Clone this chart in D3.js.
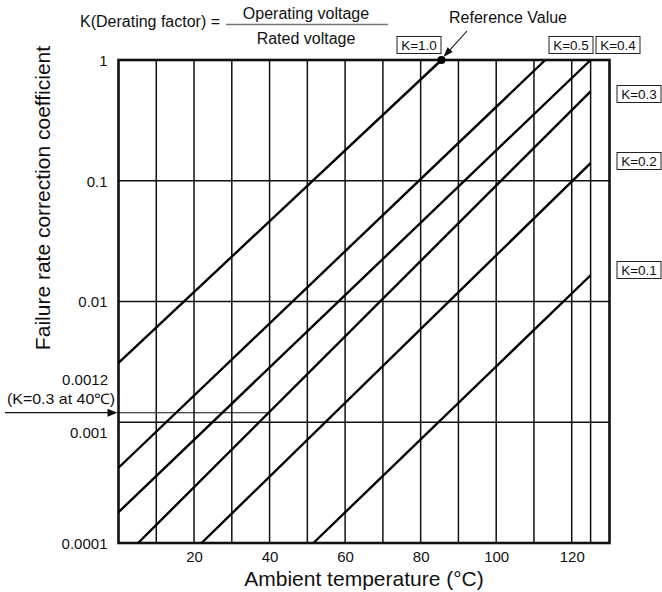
<!DOCTYPE html>
<html>
<head>
<meta charset="utf-8">
<script src="https://cdn.jsdelivr.net/npm/d3@7"></script>
<style>
  html, body { margin: 0; padding: 0; background: #fff; }
  svg { display: block; }
  text { font-family: "Liberation Sans", Arial, Helvetica, sans-serif; fill: #111; }
</style>
</head>
<body>
<svg id="chart" width="662" height="592"></svg>
<script>
// ---- data ----
const tempTicks = [20, 40, 60, 80, 100, 120];
const tempGrid = [10, 20, 30, 40, 50, 60, 70, 80, 90, 100, 110, 120, 125];
const valueTicks = [1, 0.1, 0.01, 0.001, 0.0001];
const valueTickLabels = ["1", "0.1", "0.01", "0.001", "0.0001"];

const seriesNames = ["K=1.0", "K=0.5", "K=0.4", "K=0.3", "K=0.2", "K=0.1"];
const startTemp  = [0, 0, 0, 5.2, 22, 51.6];
const startValue = [0.0031, 0.00042, 0.00018, 0.0001, 0.0001, 0.0001];
const endTemp    = [85.5, 113, 125, 125, 125, 125];
const endValue   = [1, 1, 1, 0.55, 0.14, 0.0165];

const refTemp = 40, refValue = 0.0012;   // K=0.3 at 40°C
const refPointTemp = 85.5, refPointValue = 1; // Reference Value

// ---- scales ----
const svg = d3.select("#chart");
const x = d3.scaleLinear().domain([0, 130]).range([118.5, 609.5]);
const y = d3.scaleLog().domain([0.0001, 1]).range([543, 60]);

const g = svg.append("g");

// vertical grid
g.selectAll("line.vg").data(tempGrid).join("line")
  .attr("x1", d => x(d)).attr("x2", d => x(d))
  .attr("y1", y(1)).attr("y2", y(0.0001))
  .attr("stroke", "#111").attr("stroke-width", 1.5);

// horizontal grid
g.selectAll("line.hg").data(valueTicks.slice(1, 4)).join("line")
  .attr("x1", x(0)).attr("x2", x(130))
  .attr("y1", d => y(d)).attr("y2", d => y(d))
  .attr("stroke", "#111").attr("stroke-width", 1.4);

// 0.0012 reference line
g.append("line")
  .attr("x1", x(0)).attr("x2", x(refTemp))
  .attr("y1", y(refValue)).attr("y2", y(refValue))
  .attr("stroke", "#111").attr("stroke-width", 1.1);

// frame
g.append("rect")
  .attr("x", x(0)).attr("y", y(1))
  .attr("width", x(130) - x(0)).attr("height", y(0.0001) - y(1))
  .attr("fill", "none").attr("stroke", "#111").attr("stroke-width", 2.6);

// series lines
const seriesData = seriesNames.map((n, i) => ({
  name: n,
  pts: [[startTemp[i], startValue[i]], [endTemp[i], endValue[i]]]
}));
const line = d3.line().x(d => x(d[0])).y(d => y(d[1]));
g.selectAll("path.s").data(seriesData).join("path")
  .attr("d", d => line(d.pts))
  .attr("fill", "none").attr("stroke", "#000").attr("stroke-width", 2.4);

// axes (labels only)
const xAxis = d3.axisBottom(x).tickValues(tempTicks).tickSize(0).tickPadding(8).tickFormat(d3.format("d"));
const xa = svg.append("g").attr("transform", `translate(0,${y(0.0001)})`).call(xAxis);
xa.select(".domain").remove();
xa.selectAll("text").style("font-size", "15px").attr("fill", "#111")
  .style("font-family", "Liberation Sans, Arial, sans-serif");

const yAxis = d3.axisLeft(y).tickValues(valueTicks).tickSize(0).tickPadding(11)
  .tickFormat((d, i) => valueTickLabels[i]);
const ya = svg.append("g").attr("transform", `translate(${x(0)},0)`).call(yAxis);
ya.select(".domain").remove();
ya.selectAll("text").style("font-size", "15px").attr("fill", "#111")
  .style("font-family", "Liberation Sans, Arial, sans-serif")
  .attr("dy", d => d === 0.001 ? "1.0em" : "0.35em");

// axis titles
svg.append("text")
  .attr("x", (x(0) + x(130)) / 2).attr("y", 586)
  .attr("text-anchor", "middle").style("font-size", "21px")
  .text("Ambient temperature (°C)");

svg.append("text")
  .attr("transform", "translate(50,198) rotate(-90)")
  .attr("text-anchor", "middle").style("font-size", "21px")
  .text("Failure rate correction coefficient");

// left annotation
svg.append("text").attr("x", 108).attr("y", 385).attr("text-anchor", "end")
  .style("font-size", "15px").text("0.0012");
svg.append("text").attr("x", 7).attr("y", 404)
  .style("font-size", "14.5px").attr("textLength", 108).attr("lengthAdjust", "spacingAndGlyphs")
  .text("(K=0.3 at 40℃)");
svg.append("line").attr("x1", 5).attr("x2", 108)
  .attr("y1", y(refValue)).attr("y2", y(refValue))
  .attr("stroke", "#111").attr("stroke-width", 1.2);
svg.append("path")
  .attr("d", `M${x(0) - 1},${y(refValue)} l-10,-4 l0,8 z`)
  .attr("fill", "#111");

// formula
svg.append("text").attr("x", 80).attr("y", 27).style("font-size", "16px")
  .text("K(Derating factor) =");
svg.append("text").attr("x", 306).attr("y", 19).attr("text-anchor", "middle")
  .style("font-size", "16px").text("Operating voltage");
svg.append("line").attr("x1", 226).attr("x2", 388).attr("y1", 24.5).attr("y2", 24.5)
  .attr("stroke", "#777").attr("stroke-width", 1.5);
svg.append("text").attr("x", 306).attr("y", 44).attr("text-anchor", "middle")
  .style("font-size", "16px").text("Rated voltage");

// reference value
svg.append("text").attr("x", 508).attr("y", 23).attr("text-anchor", "middle")
  .style("font-size", "16px").text("Reference Value");
const px = x(refPointTemp), py = y(refPointValue);
svg.append("circle").attr("cx", px).attr("cy", py).attr("r", 4).attr("fill", "#000");
const ax0 = 467, ay0 = 31;
const ang = Math.atan2(py - 3 - ay0, px + 2 - ax0);
const tipX = px + 2, tipY = py - 3;
svg.append("line").attr("x1", ax0).attr("y1", ay0).attr("x2", tipX - 6 * Math.cos(ang)).attr("y2", tipY - 6 * Math.sin(ang))
  .attr("stroke", "#111").attr("stroke-width", 1.1);
svg.append("path")
  .attr("d", `M${tipX},${tipY} L${tipX - 10 * Math.cos(ang) + 3.5 * Math.sin(ang)},${tipY - 10 * Math.sin(ang) - 3.5 * Math.cos(ang)} L${tipX - 10 * Math.cos(ang) - 3.5 * Math.sin(ang)},${tipY - 10 * Math.sin(ang) + 3.5 * Math.cos(ang)} Z`)
  .attr("fill", "#111");

// K label boxes
const labelPos = [
  {x: 397, yc: 45}, {x: 549, yc: 45}, {x: 596, yc: 45},
  {x: 617, yc: 94}, {x: 617, yc: 161}, {x: 617, yc: 270}
];
seriesNames.forEach((n, i) => {
  const p = labelPos[i];
  const w = 44, h = 17;
  svg.append("rect").attr("x", p.x).attr("y", p.yc - h / 2).attr("width", w).attr("height", h)
    .attr("fill", "#fff").attr("stroke", "#222").attr("stroke-width", 1);
  svg.append("text").attr("x", p.x + w / 2).attr("y", p.yc + 5).attr("text-anchor", "middle")
    .style("font-size", "13.5px").text(n);
});
</script>
</body>
</html>
